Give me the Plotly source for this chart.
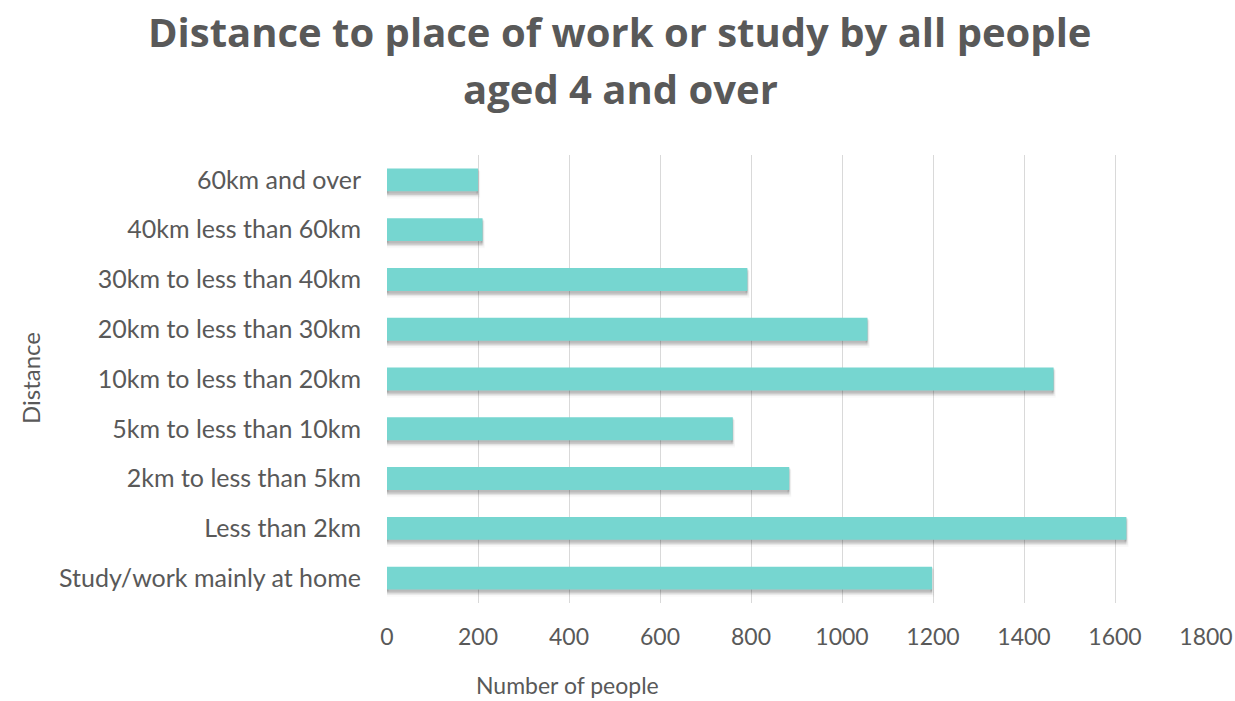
import plotly.graph_objects as go

# categories bottom -> top (as drawn)
categories = [
    'Study/work mainly at home',
    'Less than 2km',
    '2km to less than 5km',
    '5km to less than 10km',
    '10km to less than 20km',
    '20km to less than 30km',
    '30km to less than 40km',
    '40km less than 60km',
    '60km and over',
]
people = [1198, 1625, 884, 760, 1465, 1056, 792, 210, 200]
x_ticks = [0, 200, 400, 600, 800, 1000, 1200, 1400, 1600, 1800]

BAR = '#76D6D0'
TXT = '#595959'
FONT = 'Lato'
BW = 0.46

W, H = 1235, 701
L, R, T, B = 387, 29, 155, 98
PW, PH = W - L - R, H - T - B


def px(x):
    return (x - L) / PW


def py(y):
    return (H - B - y) / PH


fig = go.Figure()

# soft drop shadow below/right of the bars (stacked translucent layers)
for i, a in enumerate([0.08, 0.08, 0.07, 0.05]):
    fig.add_trace(go.Bar(
        y=categories, x=people, orientation='h',
        width=BW, offset=-BW / 2 - 0.025 - 0.025 * i,
        marker=dict(color=f'rgba(0,0,0,{a})',
                    line=dict(width=1.5 + i, color=f'rgba(0,0,0,{a / 2})')),
        hoverinfo='skip', showlegend=False,
    ))

fig.add_trace(go.Bar(
    y=categories, x=people, orientation='h',
    width=BW, offset=-BW / 2,
    marker=dict(color=BAR, line=dict(width=0)),
    showlegend=False,
))

fig.update_layout(
    width=W, height=H,
    barmode='overlay',
    paper_bgcolor='white', plot_bgcolor='white',
    margin=dict(l=L, r=R, t=T, b=B),
    font=dict(family=FONT, color=TXT, size=25),
    xaxis=dict(
        range=[0, 1800], tickvals=x_ticks,
        showgrid=True, gridcolor='#D9D9D9', gridwidth=1.3,
        zeroline=False, showline=False, ticks='',
        ticklabelstandoff=18, automargin=False,
        tickfont=dict(size=23, color=TXT),
    ),
    yaxis=dict(
        categoryorder='array', categoryarray=categories,
        showgrid=False, zeroline=False, showline=False, ticks='',
        ticklabelstandoff=25, automargin=False,
        tickfont=dict(size=25, color=TXT),
    ),
    annotations=[
        dict(text='<b>Distance to place of work or study by all people</b>',
             xref='paper', yref='paper', x=px(620), y=py(31),
             xanchor='center', yanchor='middle', showarrow=False,
             font=dict(family='Open Sans', size=40, color=TXT)),
        dict(text='<b>aged 4 and over</b>',
             xref='paper', yref='paper', x=px(620), y=py(89),
             xanchor='center', yanchor='middle', showarrow=False,
             font=dict(family='Open Sans', size=40, color=TXT)),
        dict(text='Number of people', xref='paper', yref='paper',
             x=px(567), y=py(685),
             xanchor='center', yanchor='middle', showarrow=False,
             font=dict(size=23, color=TXT)),
        dict(text='Distance', xref='paper', yref='paper',
             x=px(30), y=py(378), textangle=-90,
             xanchor='center', yanchor='middle', showarrow=False,
             font=dict(size=24, color=TXT)),
    ],
)

# drop the default page margin so the 1235x701 figure fills the window
fig.write_html('out.html', config={'displayModeBar': False},
               post_script="document.body.style.margin='0';"
               "document.body.style.overflow='hidden';")
